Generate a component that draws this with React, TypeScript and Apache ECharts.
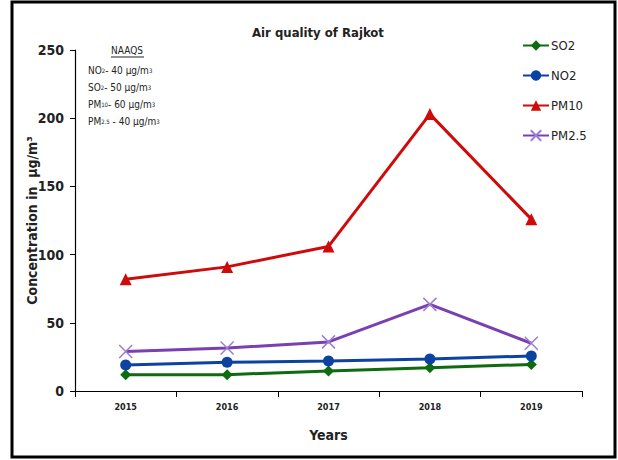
import React, { useEffect, useRef } from "react";
import * as echarts from "echarts";

const years = ["2015", "2016", "2017", "2018", "2019"];
const so2 = [12, 12, 14.7, 17, 19.5];
const no2 = [19, 21, 22, 23.5, 25.7];
const pm10 = [82, 91, 106, 203, 126];
const pm25 = [29, 31.5, 36, 63.5, 35];
const yTicks = [0, 50, 100, 150, 200, 250];

const FONT = "'Liberation Sans Narrow', 'DejaVu Sans Condensed', 'Liberation Sans', sans-serif";

export default function App() {
  const ref = useRef<HTMLDivElement>(null);
  useEffect(() => {
    document.body.style.margin = "0";
    const chart = echarts.init(ref.current!, null, { renderer: "svg" });
    const cross = "path://M0,0L10,10M10,0L0,10";
    chart.setOption({
      animation: false,
      backgroundColor: "#ffffff",
      title: {
        text: "Air quality of Rajkot",
        left: 313,
        top: 21,
        textAlign: "center",
        textStyle: { fontFamily: FONT, fontSize: 13, fontWeight: "bold", color: "#222" },
      },
      legend: {
        orient: "vertical",
        left: 517,
        top: 34,
        itemGap: 17,
        itemWidth: 26,
        itemHeight: 13,
        textStyle: { fontFamily: FONT, fontSize: 13, color: "#222", padding: [0, 0, 0, -3] },
        data: ["SO2", "NO2", "PM10", "PM2.5"],
      },
      grid: { left: 75, right: 36, top: 50, bottom: 69, containLabel: false },
      xAxis: {
        type: "category",
        data: years,
        boundaryGap: true,
        name: "Years",
        nameLocation: "middle",
        nameGap: 37,
        nameMoveOverlap: false,
        nameTextStyle: { fontFamily: FONT, fontSize: 14, fontWeight: "bold", color: "#222" },
        axisLine: { lineStyle: { color: "#000", width: 1.2 } },
        axisTick: { show: true, length: 6, alignWithLabel: false, lineStyle: { color: "#000" } },
        axisLabel: { fontFamily: FONT, fontSize: 9, fontWeight: "bold", color: "#222", margin: 11 },
      },
      yAxis: {
        type: "value",
        min: yTicks[0],
        max: yTicks[yTicks.length - 1],
        interval: 50,
        name: "Concentration in  µg/m³",
        nameLocation: "middle",
        nameGap: 36,
        nameMoveOverlap: false,
        nameTextStyle: { fontFamily: FONT, fontSize: 14, fontWeight: "bold", color: "#222" },
        axisLine: { show: true, lineStyle: { color: "#000", width: 1.2 } },
        axisTick: { show: true, length: 5, lineStyle: { color: "#000" } },
        splitLine: { show: false },
        axisLabel: { fontFamily: FONT, fontSize: 14, fontWeight: "bold", color: "#222", margin: 11 },
      },
      series: [
        {
          name: "SO2",
          type: "line",
          data: so2,
          symbol: "diamond",
          symbolSize: 11,
          lineStyle: { color: "#0d6b10", width: 3 },
          itemStyle: { color: "#0d6b10" },
        },
        {
          name: "NO2",
          type: "line",
          data: no2,
          symbol: "circle",
          symbolSize: 11,
          lineStyle: { color: "#0c43a3", width: 3 },
          itemStyle: { color: "#0c43a3" },
        },
        {
          name: "PM10",
          type: "line",
          data: pm10,
          symbol: "triangle",
          symbolSize: 12,
          lineStyle: { color: "#cf0a0a", width: 3 },
          itemStyle: { color: "#cf0a0a" },
        },
        {
          name: "PM2.5",
          type: "line",
          data: pm25,
          symbol: cross,
          symbolSize: 13,
          lineStyle: { color: "#7a3fb0", width: 3 },
          itemStyle: { color: "#7a3fb0", borderColor: "#9a7fd0", borderWidth: 1.5 },
        },
      ],
      graphic: [
        {
          type: "rect",
          shape: { x: 12, y: 2, width: 603, height: 455 },
          style: { fill: "none", stroke: "#000", lineWidth: 3 },
          silent: true,
        },
        {
          type: "text",
          left: 111,
          top: 45,
          style: {
            text: "NAAQS",
            fontFamily: FONT,
            fontSize: 10,
            fill: "#222",
          },
        },
        {
          type: "line",
          shape: { x1: 111, y1: 57, x2: 144, y2: 57 },
          style: { stroke: "#222", lineWidth: 1 },
        },
        {
          type: "text",
          left: 88,
          top: 62,
          style: {
            text: "NO{s|2}- 40 µg/m{s|3}\nSO{s|2}- 50 µg/m{s|3}\nPM{s|10}- 60 µg/m{s|3}\nPM{s|2.5} - 40 µg/m{s|3}",
            fontFamily: FONT,
            fontSize: 10,
            lineHeight: 17,
            fill: "#222",
            rich: { s: { fontSize: 6, fontFamily: FONT, fill: "#222", lineHeight: 17 } },
          },
        },
      ],
    });
    return () => chart.dispose();
  }, []);
  return (
    <div
      ref={ref}
      style={{ position: "absolute", left: 0, top: 0, width: 618, height: 460 }}
    />
  );
}
